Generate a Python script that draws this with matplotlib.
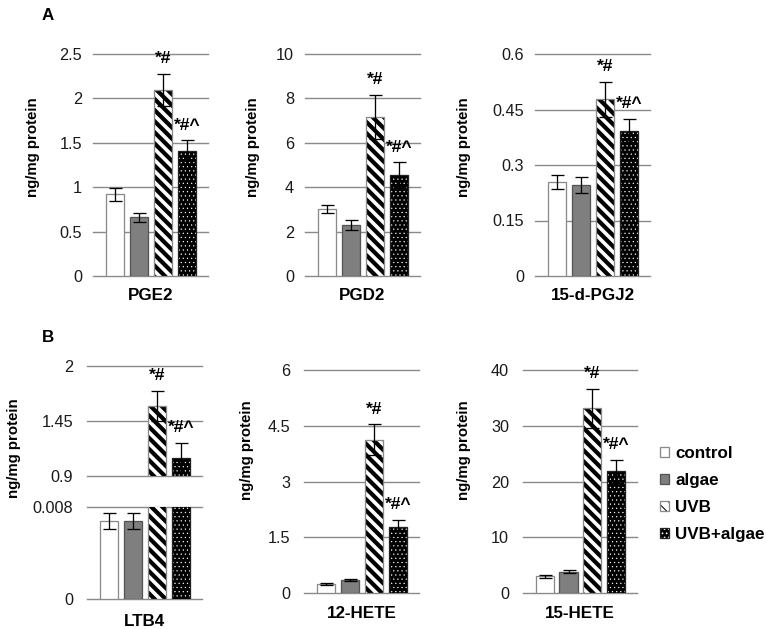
import matplotlib

matplotlib.use("Agg")
import matplotlib.pyplot as plt
from matplotlib.legend_handler import HandlerTuple

DPI = 100
W, H = 766, 629


def pt(px):
    """pixel size -> points at this dpi"""
    return px * 72 / DPI


plt.rcParams.update({
    "font.family": ["Liberation Sans", "DejaVu Sans"],
    "font.size": pt(15),
    "hatch.linewidth": pt(1.0),
})

GROUPS = ["control", "algae", "UVB", "UVB+algae"]
MARKS = ["", "", "*#", "*#^"]

pge2 = [0.92, 0.66, 2.10, 1.41]
pge2_err = [0.07, 0.05, 0.18, 0.12]
pgd2 = [3.02, 2.30, 7.16, 4.56]
pgd2_err = [0.17, 0.23, 1.00, 0.57]
pgj2 = [0.254, 0.245, 0.478, 0.393]
pgj2_err = [0.020, 0.022, 0.047, 0.032]
ltb4 = [0.00675, 0.00675, 1.60, 1.08]
ltb4_err = [0.0007, 0.0007, 0.15, 0.15]
hete12 = [0.24, 0.35, 4.12, 1.77]
hete12_err = [0.03, 0.03, 0.42, 0.20]
hete15 = [2.99, 3.82, 33.1, 21.8]
hete15_err = [0.3, 0.3, 3.5, 2.1]

pge2_ticks = [0, 0.5, 1, 1.5, 2, 2.5]
pgd2_ticks = [0, 2, 4, 6, 8, 10]
pgj2_ticks = [0, 0.15, 0.3, 0.45, 0.6]
ltb4_ticks_hi = [0.9, 1.45, 2]
ltb4_ticks_lo = [0, 0.008]
hete12_ticks = [0, 1.5, 3, 4.5, 6]
hete15_ticks = [0, 10, 20, 30, 40]

# bar styling; hatch density: 3 backslashes ~ 11 px stripe period at 100 dpi
FACE = ["white", "#7f7f7f", "white", "black"]
EDGE = ["#8a8a8a", "#555555", "#8a8a8a", "#222222"]
HATCH = [None, None, "\\\\\\", "...."]
HATCH_COLOR = ["white", "#7f7f7f", "black", "white"]
HATCH_LW = [1.0, 1.0, 4.2, 0.5]   # px
GRID = "#8a8a8a"
BAR_W = 0.77

fig = plt.figure(figsize=(W / DPI, H / DPI), dpi=DPI)


def add_ax(x0, y0, x1, y1):
    """axes from pixel box (left, top, right, bottom)"""
    return fig.add_axes([x0 / W, 1 - y1 / H, (x1 - x0) / W, (y1 - y0) / H])


def style_ax(ax, ticks, pad):
    ax.set_xlim(-0.92, 3.88)
    ax.set_ylim(ticks[0], ticks[-1])
    ax.set_yticks(ticks)
    ax.yaxis.set_major_formatter("{x:g}")
    ax.set_xticks([])
    ax.tick_params(axis="y", length=0, pad=pt(pad), labelsize=pt(16.2),
                   labelcolor="#1a1a1a")
    for s in ax.spines.values():
        s.set_visible(False)
    ax.patch.set_alpha(0)
    for t in ticks:
        ax.axhline(t, color=GRID, lw=pt(1.4), zorder=1, clip_on=False)


def draw_bars(ax, vals, errs, marks=True):
    handles = []
    for i in range(len(vals)):
        with plt.rc_context({"hatch.linewidth": pt(HATCH_LW[i])}):
            fill = ax.bar(i, vals[i], BAR_W, color=FACE[i],
                          edgecolor=HATCH_COLOR[i], hatch=HATCH[i], lw=0,
                          zorder=2)
        for p in fill:
            if hasattr(p, "set_hatch_linewidth"):
                p.set_hatch_linewidth(pt(HATCH_LW[i]))
        edge = ax.bar(i, vals[i], BAR_W, fill=False, edgecolor=EDGE[i],
                      lw=pt(1.3), zorder=2.5)
        handles.append((fill[0], edge[0]))
    ax.errorbar(range(len(vals)), vals, yerr=errs, fmt="none", ecolor="black",
                elinewidth=pt(1.3), capsize=pt(6.5), capthick=pt(1.3),
                zorder=3)
    if marks:
        lo = ax.get_ylim()[0]
        for i, m in enumerate(MARKS):
            if m and vals[i] > lo:
                ax.annotate(m, (i, vals[i] + errs[i]), xytext=(0, pt(15)),
                            textcoords="offset points", ha="center",
                            va="center", fontsize=pt(17.5), weight="bold")
    return handles


def labels(name, ax_xc, name_y, ylab_x, ylab_y):
    fig.text(ax_xc / W, 1 - name_y / H, name, ha="center", va="center",
             fontsize=pt(17), weight="bold")
    fig.text(ylab_x / W, 1 - ylab_y / H, "ng/mg protein", rotation=90,
             ha="center", va="center", fontsize=pt(15), weight="bold")


# ---- row A ----
row_a = [
    (pge2, pge2_err, pge2_ticks, "PGE2", (93, 54, 208, 276), 33),
    (pgd2, pgd2_err, pgd2_ticks, "PGD2", (305, 54, 420, 276), 253),
    (pgj2, pgj2_err, pgj2_ticks, "15-d-PGJ2", (535, 54, 650, 276), 464),
]
legend_handles = None
for vals, errs, ticks, name, box, ylx in row_a:
    ax = add_ax(*box)
    style_ax(ax, ticks, 11)
    h = draw_bars(ax, vals, errs)
    legend_handles = legend_handles or h
    labels(name, (box[0] + box[2]) / 2, 295, ylx, 147)

# ---- row B: LTB4 on a broken axis ----
ax_hi = add_ax(87, 366, 202, 476)
style_ax(ax_hi, ltb4_ticks_hi, 14)
ax_lo = add_ax(87, 507, 202, 599)
style_ax(ax_lo, ltb4_ticks_lo, 14)
draw_bars(ax_hi, ltb4, ltb4_err)
draw_bars(ax_lo, ltb4, ltb4_err, marks=False)
labels("LTB4", 144.5, 621, 14, 448)

row_b = [
    (hete12, hete12_err, hete12_ticks, "12-HETE", (304, 370, 419, 593), 247),
    (hete15, hete15_err, hete15_ticks, "15-HETE", (523, 370, 637, 593), 464),
]
for vals, errs, ticks, name, box, ylx in row_b:
    ax = add_ax(*box)
    style_ax(ax, ticks, 14)
    draw_bars(ax, vals, errs)
    labels(name, (box[0] + box[2]) / 2, 613, ylx, 450)

fig.text(48 / W, 1 - 15 / H, "A", ha="center", va="center",
         fontsize=pt(17), weight="bold")
fig.text(48 / W, 1 - 337 / H, "B", ha="center", va="center",
         fontsize=pt(17), weight="bold")

fig.legend(legend_handles, GROUPS, loc="center left",
           bbox_to_anchor=(660 / W, 1 - 494 / H), frameon=False,
           prop={"weight": "bold", "size": pt(17)},
           handlelength=0.55, handleheight=0.55, handletextpad=0.35,
           labelspacing=0.72, borderpad=0, borderaxespad=0,
           handler_map={tuple: HandlerTuple(ndivide=1, pad=0)})

fig.savefig("out.png", dpi=DPI)
